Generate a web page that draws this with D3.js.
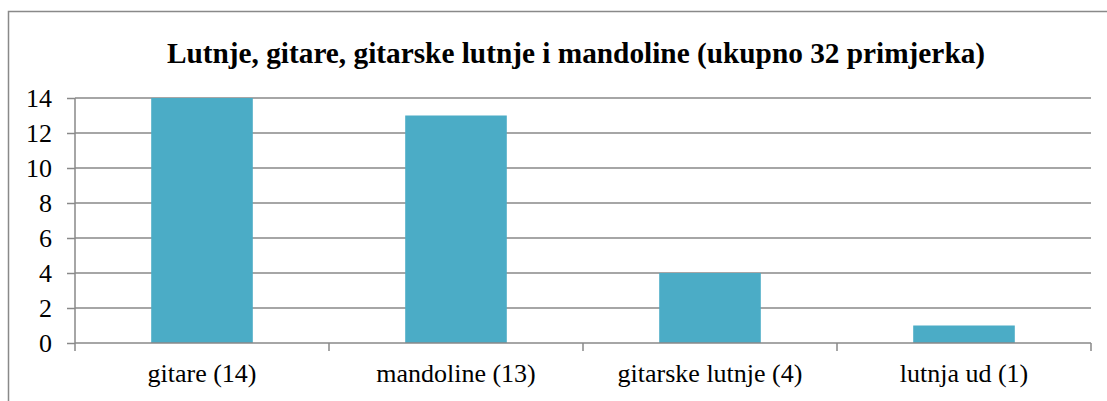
<!DOCTYPE html>
<html>
<head>
<meta charset="utf-8">
<script src="https://cdn.jsdelivr.net/npm/d3@7"></script>
<style>
  body { margin: 0; background: #fff; }
  svg { display: block; }
</style>
</head>
<body>
<svg width="1107" height="401"></svg>
<script>
var categories = ["gitare (14)", "mandoline (13)", "gitarske lutnje (4)", "lutnja ud (1)"];
var values = [14, 13, 4, 1];
var yTicks = [0, 2, 4, 6, 8, 10, 12, 14];
var title = "Lutnje, gitare, gitarske lutnje i mandoline (ukupno 32 primjerka)";

var svg = d3.select("svg");
var gridColor = "#898989";
var serif = "'Liberation Serif', 'Times New Roman', serif";

// outer chart frame (runs off the right and bottom edges)
svg.append("rect")
  .attr("x", 8.5).attr("y", 11.5)
  .attr("width", 1110).attr("height", 400)
  .attr("fill", "none").attr("stroke", gridColor).attr("stroke-width", 1.5);

var pLeft = 75, pRight = 1091, pTop = 98, pBottom = 343;

var x = d3.scaleBand().domain(categories).range([pLeft, pRight]).paddingInner(0.6).paddingOuter(0.3);
var y = d3.scaleLinear().domain([0, 14]).range([pBottom, pTop]);

// gridlines
svg.append("g").selectAll("line").data(yTicks.slice(1)).join("line")
  .attr("x1", pLeft).attr("x2", pRight)
  .attr("y1", d => y(d)).attr("y2", d => y(d))
  .attr("stroke", gridColor).attr("stroke-width", 1.5);

// bars
svg.append("g").selectAll("rect").data(values).join("rect")
  .attr("x", (d, i) => x(categories[i]))
  .attr("width", x.bandwidth())
  .attr("y", d => y(d))
  .attr("height", d => y(0) - y(d))
  .attr("fill", "#4BACC6");

// y axis
var yAxis = svg.append("g").attr("transform", "translate(" + pLeft + ",0)")
  .call(d3.axisLeft(y).tickValues(yTicks).tickSize(8).tickPadding(15).tickFormat(d3.format("d")));
yAxis.select(".domain").attr("stroke", gridColor).attr("stroke-width", 1.5).attr("d", "M0," + pTop + "V" + pBottom);
yAxis.selectAll(".tick line").attr("stroke", gridColor).attr("stroke-width", 1.5);
yAxis.selectAll("text").attr("fill", "#000").style("font-family", serif).style("font-size", "26px");

// x axis with ticks at category boundaries
var step = (pRight - pLeft) / categories.length;
var xa = svg.append("g");
xa.append("line").attr("x1", pLeft).attr("x2", pRight).attr("y1", pBottom).attr("y2", pBottom)
  .attr("stroke", gridColor).attr("stroke-width", 1.5);
xa.selectAll("line.t").data(d3.range(categories.length + 1)).join("line").attr("class", "t")
  .attr("x1", i => pLeft + i * step).attr("x2", i => pLeft + i * step)
  .attr("y1", pBottom).attr("y2", pBottom + 8)
  .attr("stroke", gridColor).attr("stroke-width", 1.5);
xa.selectAll("text").data(categories).join("text")
  .attr("x", d => x(d) + x.bandwidth() / 2)
  .attr("y", 382)
  .attr("text-anchor", "middle")
  .style("font-family", serif).style("font-size", "26px")
  .text(d => d);

svg.append("text")
  .attr("x", 576).attr("y", 63)
  .attr("text-anchor", "middle")
  .style("font-family", serif).style("font-size", "29.3px").style("font-weight", "bold")
  .text(title);
</script>
</body>
</html>
